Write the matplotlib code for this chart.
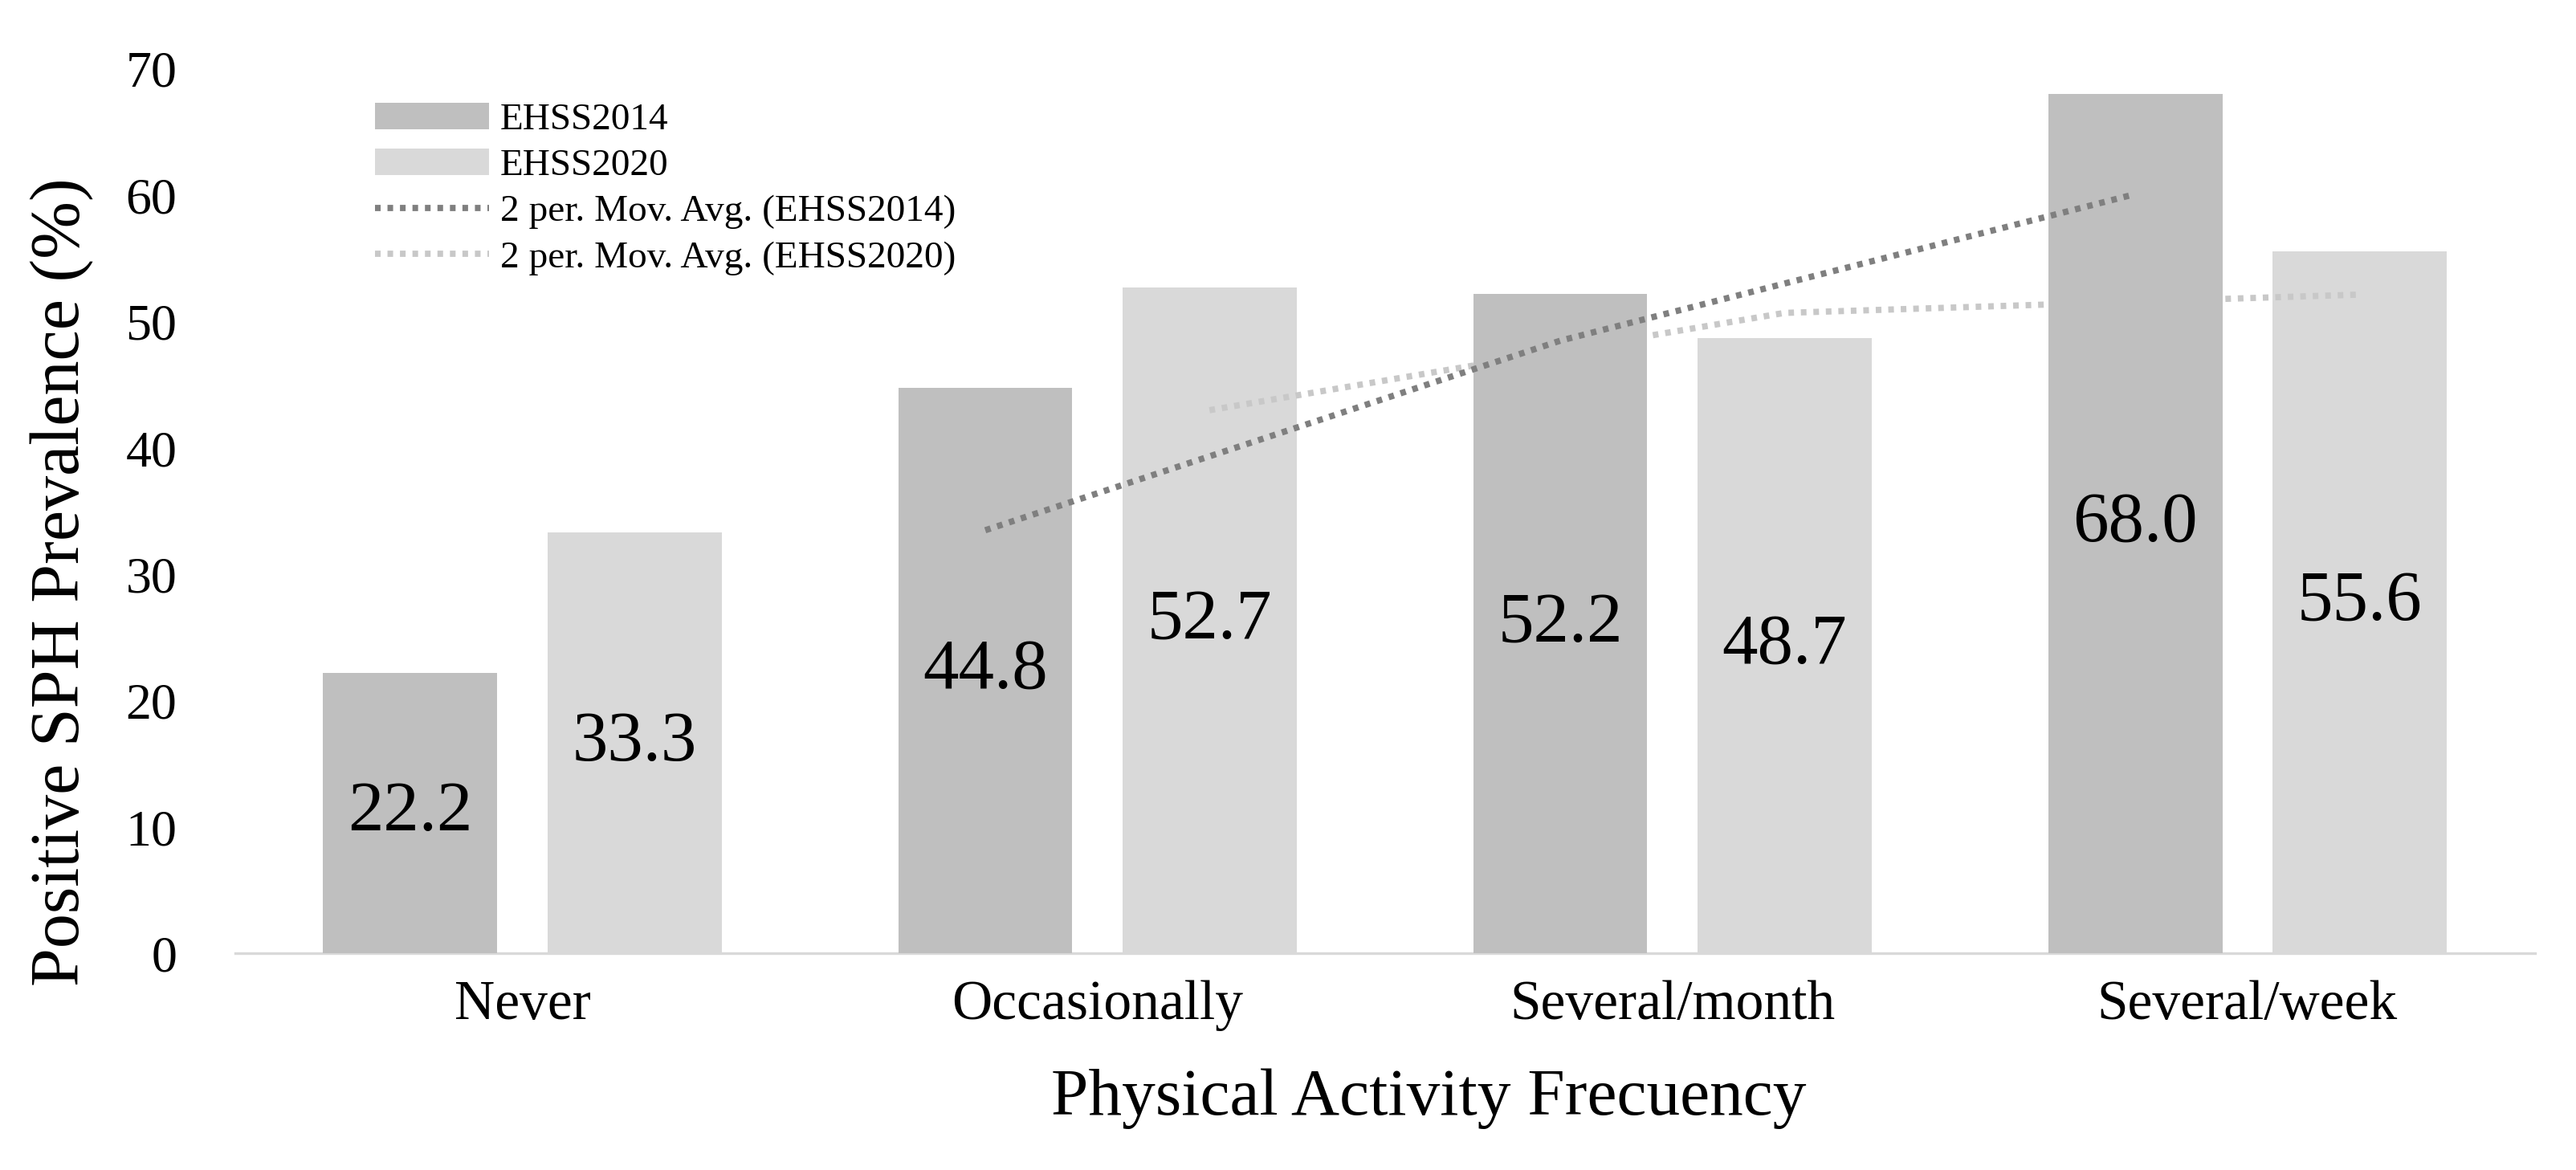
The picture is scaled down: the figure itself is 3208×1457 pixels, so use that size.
import numpy as np
import matplotlib.pyplot as plt

# datos
categorias = ['Never', 'Occasionally', 'Several/month', 'Several/week']
ehss2014 = [22.2, 44.8, 52.2, 68.0]
ehss2020 = [33.3, 52.7, 48.7, 55.6]
y_ticks = [0, 10, 20, 30, 40, 50, 60, 70]

plt.rcParams['font.family'] = ['Liberation Serif', 'DejaVu Serif']

fig, ax = plt.subplots(figsize=(16.04, 7.285), dpi=200)
fig.subplots_adjust(left=0.0912, right=0.984, bottom=0.185, top=0.941)

x = np.arange(len(categorias))
ancho = 0.303
desp = 0.195

barras14 = ax.bar(x - desp, ehss2014, ancho, color='#BFBFBF', zorder=3, label='EHSS2014')
barras20 = ax.bar(x + desp, ehss2020, ancho, color='#D9D9D9', zorder=1, label='EHSS2020')

# media movil de 2 periodos
mm14 = np.convolve(ehss2014, [0.5, 0.5], mode='valid')
mm20 = np.convolve(ehss2020, [0.5, 0.5], mode='valid')
linea14, = ax.plot(x[1:] - desp, mm14, linestyle=(0, (0.9, 1.1)), color='#7F7F7F', lw=2.8,
                   dash_capstyle='butt', zorder=4, label='2 per. Mov. Avg. (EHSS2014)')
linea20, = ax.plot(x[1:] + desp, mm20, linestyle=(0, (0.9, 1.1)), color='#C8C8C8', lw=2.8,
                   dash_capstyle='butt', zorder=2, label='2 per. Mov. Avg. (EHSS2020)')

ax.bar_label(barras14, labels=[f'{v:.1f}' for v in ehss2014], label_type='center', fontsize=32)
ax.bar_label(barras20, labels=[f'{v:.1f}' for v in ehss2020], label_type='center', fontsize=32)

ax.set_xlim(-0.5, 3.5)
ax.set_ylim(0, 70)
ax.set_yticks(y_ticks)
ax.set_xticks(x)
ax.set_xticklabels(categorias, fontsize=25)
ax.tick_params(axis='y', length=0, pad=26, labelsize=23)
ax.tick_params(axis='x', length=0, pad=12)

for lado in ['top', 'right', 'left']:
    ax.spines[lado].set_visible(False)
ax.spines['bottom'].set_color('#D9D9D9')
ax.spines['bottom'].set_linewidth(1.2)

ax.set_xlabel('Physical Activity Frecuency', fontsize=30)
ax.xaxis.set_label_coords(0.519, -0.13)
ax.set_ylabel('Positive SPH Prevalence (%)', fontsize=31)
ax.yaxis.set_label_coords(-0.061, 0.42)

ax.legend(handles=[barras14, barras20, linea14, linea20],
          loc='upper left', bbox_to_anchor=(0.061, 0.962), frameon=False, fontsize=17,
          handlelength=3.0, handletextpad=0.3, labelspacing=0.3,
          borderaxespad=0, borderpad=0)

fig.savefig('out.png', dpi=200)
